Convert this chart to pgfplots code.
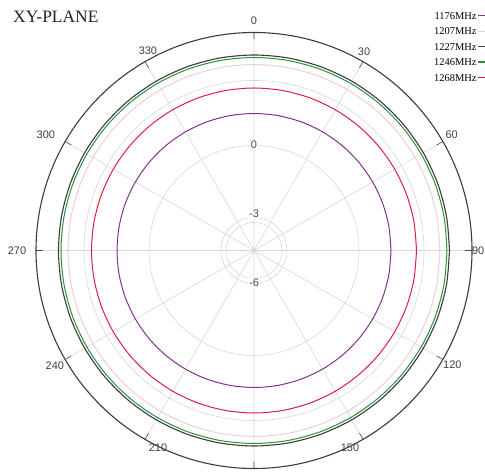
\documentclass[border=0pt]{standalone}
\usepackage{fontspec}
\setmainfont{Liberation Serif}
\newfontfamily\arial{Liberation Sans}
\usepackage{pgfplots}
\usepackage{pgfplotstable}
\usepgfplotslibrary{polar}
\pgfplotsset{compat=1.18}
\definecolor{cpurple}{RGB}{128,50,140}
\definecolor{cfaint}{RGB}{238,205,220}
\definecolor{cblack}{RGB}{60,60,60}
\definecolor{cgreen}{RGB}{40,145,60}
\definecolor{cred}{RGB}{222,30,60}
\definecolor{cgrid}{RGB}{215,215,215}

% radius in pixel units of the reference picture (outer circle = 218)
\pgfplotstableread{
ang  f1176 f1207 f1227 f1246 f1268
0    137   186   195.5 193   162.5
10   137   186   195.5 193   162.5
20   137   186   195.5 193   162.5
30   137   186   195.5 193   162.5
40   137   186   195.5 193   162.5
50   137   186   195.5 193   162.5
60   137   186   195.5 193   162.5
70   137   186   195.5 193   162.5
80   137   186   195.5 193   162.5
90   137   186   195.5 193   162.5
100  137   186   195.5 193   162.5
110  137   186   195.5 193   162.5
120  137   186   195.5 193   162.5
130  137   186   195.5 193   162.5
140  137   186   195.5 193   162.5
150  137   186   195.5 193   162.5
160  137   186   195.5 193   162.5
170  137   186   195.5 193   162.5
180  137   186   195.5 193   162.5
190  137   186   195.5 193   162.5
200  137   186   195.5 193   162.5
210  137   186   195.5 193   162.5
220  137   186   195.5 193   162.5
230  137   186   195.5 193   162.5
240  137   186   195.5 193   162.5
250  137   186   195.5 193   162.5
260  137   186   195.5 193   162.5
270  137   186   195.5 193   162.5
280  137   186   195.5 193   162.5
290  137   186   195.5 193   162.5
300  137   186   195.5 193   162.5
310  137   186   195.5 193   162.5
320  137   186   195.5 193   162.5
330  137   186   195.5 193   162.5
340  137   186   195.5 193   162.5
350  137   186   195.5 193   162.5
360  137   186   195.5 193   162.5
}\pattern

\begin{document}
\begin{tikzpicture}[x=1bp,y=1bp]
\path[use as bounding box] (0,0) rectangle (485,473);
\begin{polaraxis}[
  at={(254bp,222.5bp)}, anchor=center,
  width=436bp, height=436bp, scale only axis,
  xmin=0, xmax=360, ymin=0, ymax=218,
  xtick={0,30,...,330}, xticklabels=\empty,
  ytick={28,33,105,170}, yticklabels=\empty,
  xmajorgrids, ymajorgrids,
  major grid style={cgrid, line width=0.6bp},
  tick align=outside, major tick length=7bp,
  xtick style={black!70, line width=0.6bp},
  ytick style={draw=none},
  x axis line style={cblack, line width=1.1bp},
  y axis line style={draw=none},
  clip=false,
  legend plot pos=right,
  legend cell align=right,
  legend style={at={(0.906,1.052)}, anchor=north west, draw=none, fill=none,
    font=\fontsize{10.5}{10.5}\selectfont,
    nodes={inner sep=0pt, text height=7.5bp, text depth=0pt},
    row sep=7.9bp, column sep=1bp},
  legend image code/.code={\draw[#1, line width=1.2bp] (0bp,0bp) -- (12bp,0bp);},
]
\addplot[cpurple, line width=1bp, smooth] table[x=ang, y=f1176] {\pattern};
\addlegendentry{1176MHz}
\addplot[cfaint, line width=1bp, smooth] table[x=ang, y=f1207] {\pattern};
\addlegendentry{1207MHz}
\addplot[cblack, line width=1.1bp, smooth] table[x=ang, y=f1227] {\pattern};
\addlegendentry{1227MHz}
\addplot[cgreen, line width=1bp, smooth] table[x=ang, y=f1246] {\pattern};
\addlegendentry{1246MHz}
\addplot[cred, line width=1bp, smooth] table[x=ang, y=f1268] {\pattern};
\addlegendentry{1268MHz}

\begin{scope}[every node/.style={font=\arial\fontsize{11}{11}\selectfont, text=black!75, inner sep=0pt}]
\node at (axis cs:90,229.5) {0};
\node at (axis cs:61,227) {30};
\node at (axis cs:30.3,229) {60};
\node at (axis cs:-30,229) {120};
\node at (axis cs:-64,219) {150};
\node at (axis cs:-116,219) {210};
\node at (axis cs:-150,230) {240};
\node at (axis cs:180,237) {270};
\node at (axis cs:151,238) {300};
\node at (axis cs:118,226) {330};
\end{scope}
\begin{scope}[every node/.style={font=\arial\fontsize{11}{11}\selectfont, text=black!70, fill=white, inner sep=0.8bp}]
\node at (axis cs:90,105.5) {0};
\node at (axis cs:90,36.5) {-3};
\node at (axis cs:270,32.5) {-6};
\end{scope}
\end{polaraxis}
\node[anchor=east, font=\arial\fontsize{11}{11}\selectfont, text=black!75, inner sep=0pt] at (484.5,222.5) {90};
\node[anchor=base west, font=\fontsize{17.5}{17.5}\selectfont, text=black!85, inner sep=0pt] at (13,450) {XY-PLANE};
\end{tikzpicture}
\end{document}
